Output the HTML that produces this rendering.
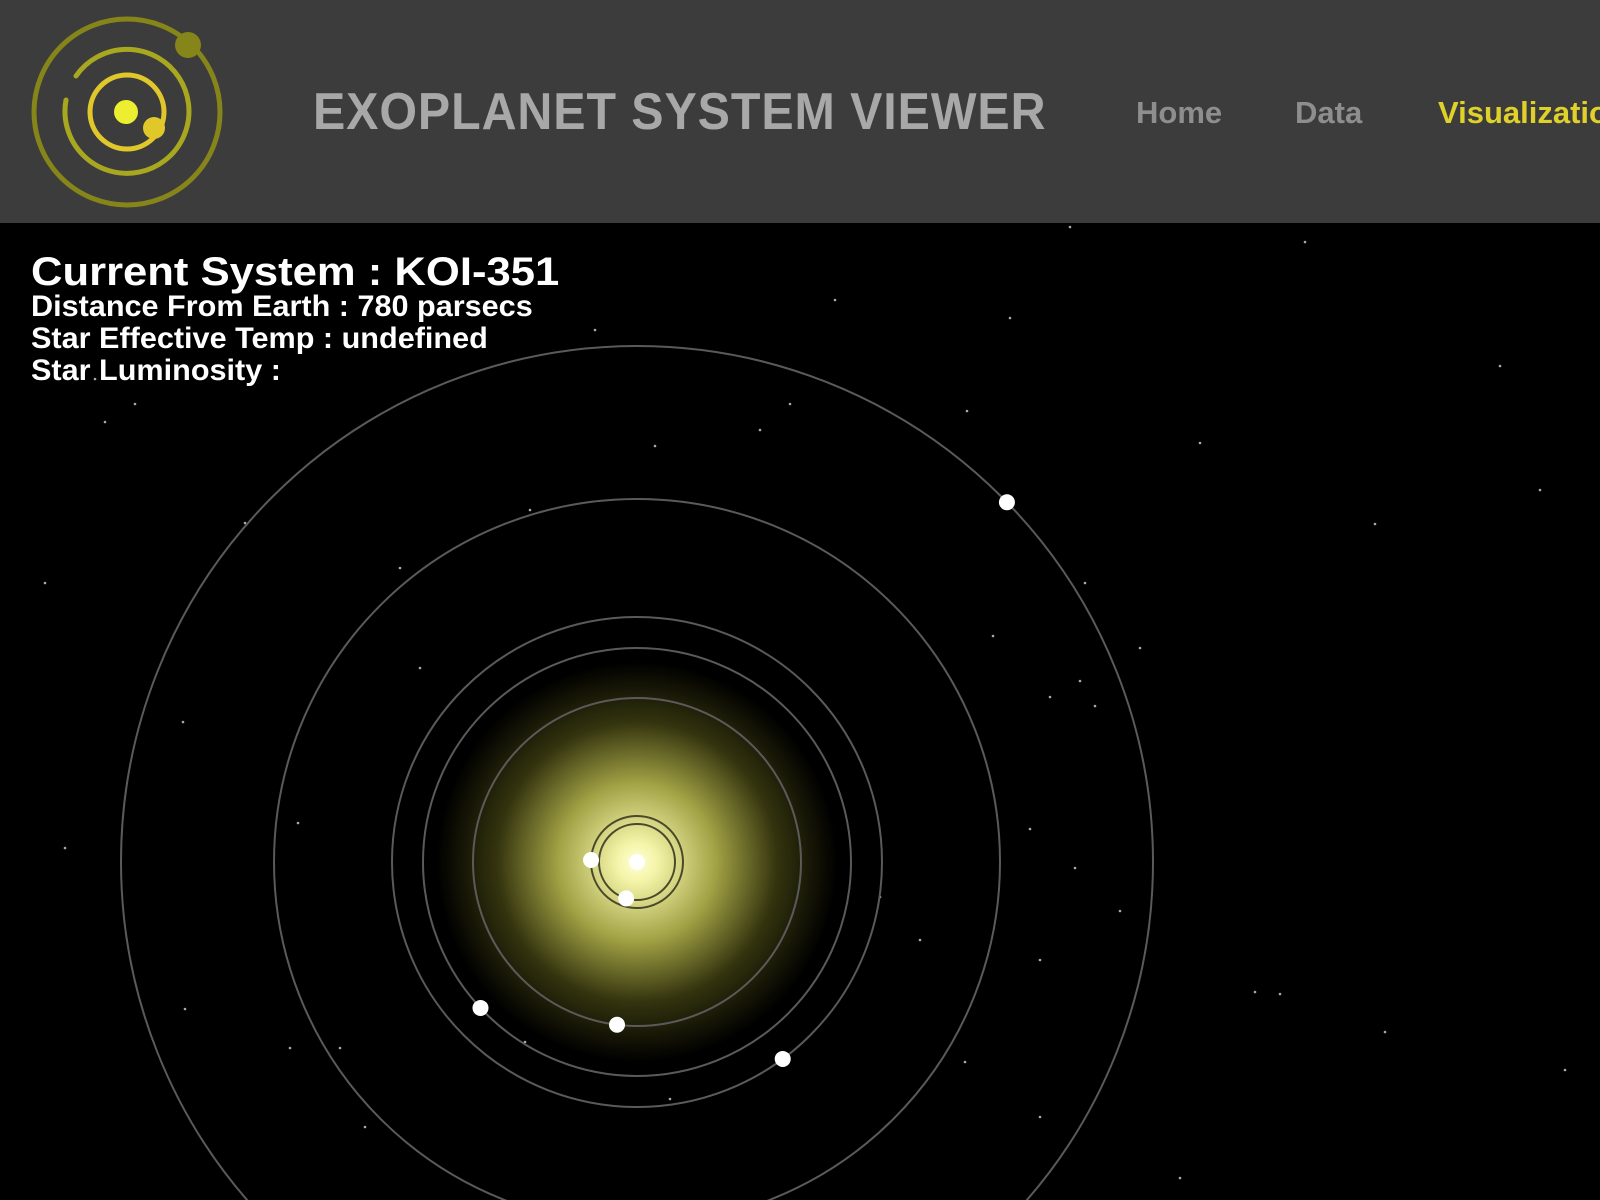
<!DOCTYPE html>
<html><head><meta charset="utf-8">
<style>
html,body{margin:0;padding:0;width:1600px;height:1200px;overflow:hidden;background:#000;position:relative;}
#hdr{position:absolute;left:0;top:0;width:1600px;height:223px;background:#3c3c3c;overflow:hidden;}
.t{position:absolute;font-family:"Liberation Sans",sans-serif;font-weight:bold;white-space:nowrap;}
</style></head><body>
<div id="hdr">
<svg style="position:absolute;left:0;top:0" width="230" height="223">
<circle cx="127" cy="112" r="93" fill="none" stroke="#858519" stroke-width="5"/>
<circle cx="188" cy="45" r="13" fill="#858519"/>
<path d="M66 100 A62 62 0 1 0 76 76" fill="none" stroke="#a8a820" stroke-width="5" stroke-linecap="round"/>
<circle cx="127" cy="112" r="37" fill="none" stroke="#e0c82a" stroke-width="5"/>
<circle cx="154" cy="128" r="11" fill="#e0c82a"/>
<circle cx="126" cy="112" r="12" fill="#eeee30"/>
</svg>
<div class="t" style="left:313px;top:82px;font-size:52px;color:#a8a8a8;letter-spacing:1px;transform:scaleX(0.93);transform-origin:left;">EXOPLANET SYSTEM VIEWER</div>
<div class="t" style="left:1136px;top:95px;font-size:31px;color:#8e8e8e;">Home</div>
<div class="t" style="left:1295px;top:95px;font-size:31px;color:#8e8e8e;">Data</div>
<div class="t" style="left:1438px;top:95px;font-size:31px;color:#e0d02a;">Visualization</div>
</div>
<svg id="sky" style="position:absolute;left:0;top:223px;display:block" width="1600" height="977">
<defs><radialGradient id="glow" cx="0.5" cy="0.5" r="0.5">
<stop offset="0" stop-color="#ffffd8"/><stop offset="0.1" stop-color="#f4f4a8"/><stop offset="0.4" stop-color="#a0a044"/><stop offset="0.7" stop-color="#34340f"/><stop offset="1" stop-color="#000"/></radialGradient></defs>
<g id="stars"></g><g id="orbits"></g><g id="planets"></g>
</svg>
<div class="t" style="left:31px;top:250px;font-size:40px;color:#fff;transform:scaleX(1.09);transform-origin:left;">Current System : KOI-351</div>
<div class="t" style="left:31px;top:291px;font-size:30px;color:#fff;line-height:32px;transform:scaleX(1.02);transform-origin:left;">Distance From Earth : 780 parsecs<br>Star Effective Temp : undefined<br>Star Luminosity :</div>
<script>
const orbitRadii=[38,46,164,214,245,363,516];
const planetAngles=[106.6,182.5,97,137,53.5,95,-44.2];
const starX=[1070,1305,595,835,1010,1500,967,1200,760,655,1375,530,245,1085,1540,993,420,1050,1140,1080,183,400,1120,722,1095,95,45,1030,1075,298,880,1040,1255,965,1280,185,1385,290,1040,1565,670,1180,340,365,525,135,105,65,790,920];
const starY=[227,242,330,300,318,366,411,443,430,446,524,510,523,583,490,636,668,697,648,681,722,568,911,683,706,379,583,829,868,823,897,960,992,1062,994,1009,1032,1048,1117,1070,1099,1178,1048,1127,1042,404,422,848,404,940];
const C={x:637,y:639};
const NS='http://www.w3.org/2000/svg';
const sky=document.getElementById('sky');
const g0=document.createElementNS(NS,'circle');


g0.setAttribute('cx',C.x);g0.setAttribute('cy',C.y);g0.setAttribute('r',200);g0.setAttribute('fill','url(#glow)');
sky.insertBefore(g0,document.getElementById('orbits'));
starX.forEach((x,i)=>{const s=document.createElementNS(NS,'circle');


s.setAttribute('cx',x);s.setAttribute('cy',starY[i]-223);s.setAttribute('r',1.3);s.setAttribute('fill','#aaa');
document.getElementById('stars').appendChild(s);});
orbitRadii.forEach((r,i)=>{const o=document.createElementNS(NS,'circle');


o.setAttribute('cx',C.x);o.setAttribute('cy',C.y);o.setAttribute('r',r);o.setAttribute('fill','none');
o.setAttribute('stroke',r<60?'#4a4a2a':'#5a5a5a');o.setAttribute('stroke-width',2);
document.getElementById('orbits').appendChild(o);
const a=planetAngles[i]*Math.PI/180;const p=document.createElementNS(NS,'circle');


p.setAttribute('cx',C.x+r*Math.cos(a));p.setAttribute('cy',C.y+r*Math.sin(a));p.setAttribute('r',8);p.setAttribute('fill','#fff');
document.getElementById('planets').appendChild(p);});
const st=document.createElementNS(NS,'circle');


st.setAttribute('cx',C.x);st.setAttribute('cy',C.y);st.setAttribute('r',8);st.setAttribute('fill','#fff');
sky.appendChild(st);
</script>
</body></html>
